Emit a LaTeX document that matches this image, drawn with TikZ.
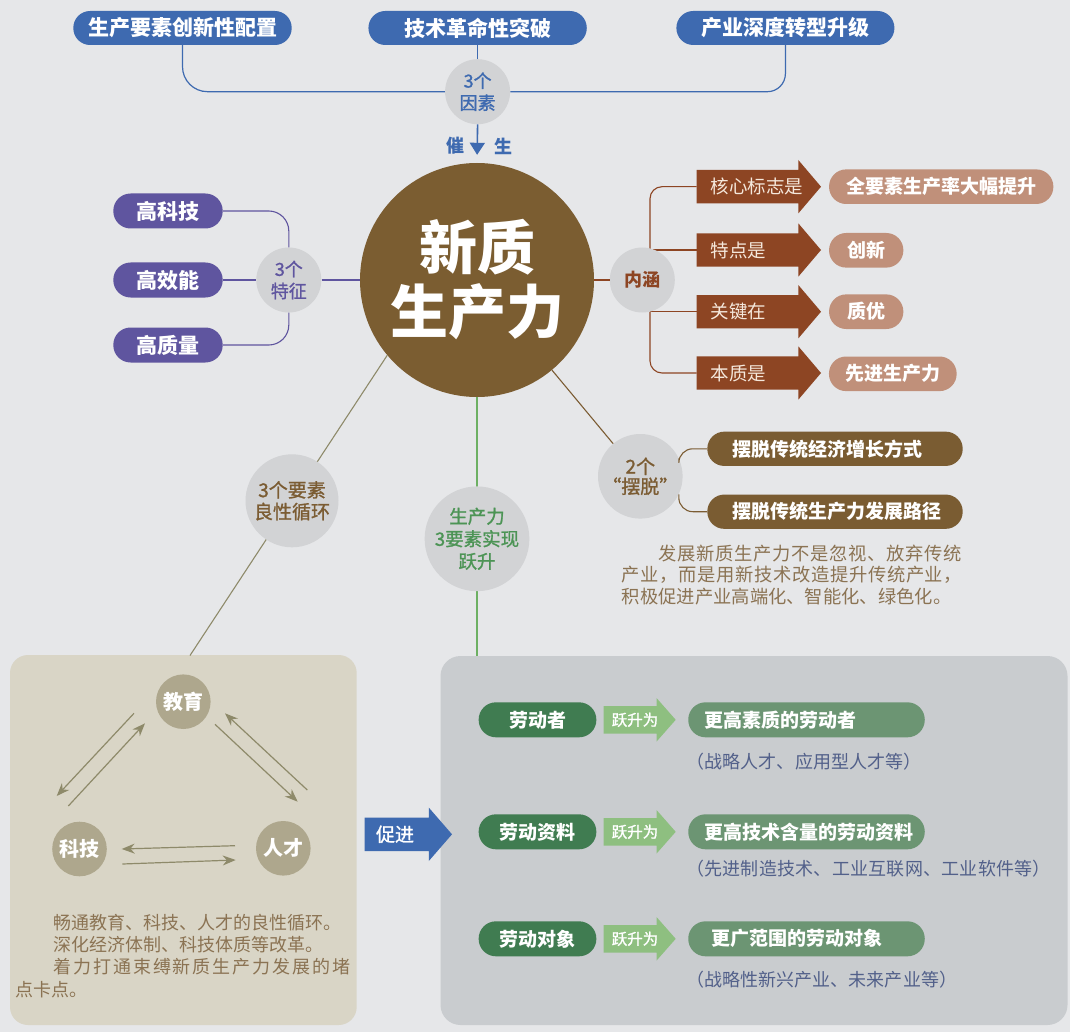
\documentclass[tikz,border=0pt]{standalone}
\usepackage{fontspec}
\setmainfont{Noto Sans CJK SC}
\newfontfamily\medf{Noto Sans CJK SC}[FakeBold=1.2]
\usetikzlibrary{arrows.meta}
\definecolor{bgc}{HTML}{E6E7E9}
\definecolor{cblue}{HTML}{3E6AB0}
\definecolor{cgray}{HTML}{D2D3D5}
\definecolor{cpurple}{HTML}{5F559F}
\definecolor{bigbrown}{HTML}{7B5D31}
\definecolor{abrown}{HTML}{8D4523}
\definecolor{salmon}{HTML}{C0907A}
\definecolor{pbrown}{HTML}{7A5C32}
\definecolor{ptext}{HTML}{8B7353}
\definecolor{beige}{HTML}{D9D5C6}
\definecolor{khaki}{HTML}{AEA78D}
\definecolor{olive}{HTML}{8E8A6A}
\definecolor{glinec}{HTML}{6DB063}
\definecolor{gtext}{HTML}{4C9455}
\definecolor{greyp}{HTML}{C9CCCF}
\definecolor{dgreen}{HTML}{407C51}
\definecolor{lgreen}{HTML}{8EBF80}
\definecolor{mgreen}{HTML}{6C9573}
\definecolor{nblue}{HTML}{52608A}
\definecolor{cream}{HTML}{F5E8DC}
\definecolor{ytext}{HTML}{7B5C33}
\newcommand\fsz[2]{\fontsize{#1pt}{#2pt}\selectfont}
\newcommand\harrow[7]{\fill[#1] (#2,#5-#6) -- (#3,#5-#6) -- (#3,#5-#7) -- (#4,#5) -- (#3,#5+#7) -- (#3,#5+#6) -- (#2,#5+#6) -- cycle;}
\newcommand\spreadline[2]{\makebox[#1][s]{\spreadA#2\relax}}
\def\spreadA#1{#1\spreadB}
\def\spreadB#1{\ifx\relax#1\else\hfil#1\expandafter\spreadB\fi}
\tikzset{
  circ/.style={circle, fill=cgray, minimum size=65pt, inner sep=0pt, align=center, font=\medf\fsz{18}{22}},
  bpill/.style={rectangle, rounded corners=16.8pt, fill=cblue, text=white, minimum height=34pt, inner sep=0pt, font=\bfseries\fsz{21}{21}},
  ppill/.style={rectangle, rounded corners=17.3pt, fill=cpurple, text=white, minimum width=109.4pt, minimum height=35pt, inner sep=0pt, font=\bfseries\fsz{21}{21}},
  spill/.style={rectangle, rounded corners=17.1pt, fill=salmon, text=white, minimum height=34.6pt, inner sep=0pt, font=\bfseries\fsz{19}{19}},
  brpill/.style={rectangle, rounded corners=17pt, fill=pbrown, text=white, minimum height=34.3pt, text width=204.6pt, align=left, inner xsep=25.4pt, inner ysep=0pt, font=\bfseries\fsz{19}{19}},
  gpill/.style={rectangle, rounded corners=17.3pt, fill=dgreen, text=white, minimum width=117.7pt, minimum height=35pt, inner sep=0pt, font=\bfseries\fsz{19}{19}},
  mpill/.style={rectangle, rounded corners=17.3pt, fill=mgreen, text=white, minimum height=35pt, text width=204.5pt, align=left, inner xsep=16pt, inner ysep=0pt, font=\bfseries\fsz{19}{19}},
  atext/.style={text=cream, inner sep=0pt, anchor=west, font=\fsz{18.5}{18.5}},
  ytextn/.style={text=white, inner sep=0pt, font=\medf\fsz{15.5}{15.5}},
  note/.style={text=nblue, inner sep=0pt, anchor=west, font=\fsz{18}{18}},
  para/.style={text=ptext, inner sep=0pt, anchor=west, font=\fsz{18.3}{18.3}},
  tri/.style={circle, fill=khaki, minimum size=54.6pt, inner sep=0pt, text=white, font=\bfseries\fsz{20}{20}},
  bl/.style={draw=cblue, line width=1.2pt},
  pl/.style={draw=cpurple, line width=1.1pt},
  brl/.style={draw=abrown, line width=1.1pt},
  yl/.style={draw=ytext, line width=1.1pt},
  ol/.style={draw=olive, line width=1.1pt},
  gl/.style={draw=glinec, line width=1.2pt},
  tarrow/.style={draw=olive, line width=1.2pt, -{Stealth[length=13pt,width=10pt]}}
}
\begin{document}
\begin{tikzpicture}[x=1pt,y=-1pt]
\fill[bgc] (0,0) rectangle (1070,1032);
\useasboundingbox (0,0) rectangle (1070,1032);

% panels
\node[fill=beige, rounded corners=18pt, minimum width=346.7pt, minimum height=370pt, inner sep=0pt] (bp) at (183.35,840) {};
\node[fill=greyp, rounded corners=20pt, minimum width=627pt, minimum height=369pt, inner sep=0pt] (gp) at (754,840.5) {};

% central circle
\node[circle, fill=bigbrown, minimum size=234pt, inner sep=0pt, text=white, align=center, font=\bfseries\fsz{58}{64}] (big) at (477,280) {新质\\生产力};

% top factors
\node[bpill, minimum width=218.4pt] (p1) at (182.5,28) {生产要素创新性配置};
\node[bpill, minimum width=218.3pt] (p2) at (477.6,28) {技术革命性突破};
\node[bpill, minimum width=218pt] (p3) at (785.4,28) {产业深度转型升级};
\node[circ, text=cblue] (yz) at (477.6,91.7) {3个\\因素};
\draw[bl, rounded corners=25pt] (p1.south) |- (yz.west);
\draw[bl, rounded corners=18pt] (p3.south) |- (yz.east);
\draw[bl] (p2.south) -- (yz.north);
\draw[draw=cblue, line width=1.6pt, -{Triangle[width=15pt,length=12pt]}, shorten >=8pt] (yz.south) -- (big.north);
\node[text=cblue, inner sep=0pt, font=\bfseries\fsz{18}{18}] (cui) at (455,146) {催};
\node[text=cblue, inner sep=0pt, font=\bfseries\fsz{18}{18}] (sheng) at (503,146) {生};

% three features
\node[ppill] (k1) at (168,211) {高科技};
\node[ppill] (k2) at (168,280) {高效能};
\node[ppill] (k3) at (168,345) {高质量};
\node[circ, text=cpurple] (tz) at (288.8,280) {3个\\特征};
\draw[pl, rounded corners=20pt] (k1.east) -| (tz.north);
\draw[pl] (k2.east) -- (tz.west);
\draw[pl, rounded corners=20pt] (k3.east) -| (tz.south);
\draw[pl] (tz.east) -- (big.west);

% connotation
\coordinate (r1) at (696.7,186.7);
\coordinate (r2) at (696.7,250);
\coordinate (r3) at (696.7,311.7);
\coordinate (r4) at (696.7,373);
\coordinate (jt) at (650,250);
\coordinate (jb) at (650,311.7);
\draw[brl, rounded corners=12pt] (jt) |- (r1);
\draw[brl] (jt) -- (r2);
\draw[brl] (jb) -- (r3);
\draw[brl, rounded corners=12pt] (jb) |- (r4);
\node[circ, text=abrown, font=\bfseries\fsz{18}{22}] (nh) at (642.3,280) {内涵};
\draw[brl] (big.east) -- (nh.west);
\harrow{abrown}{696.7}{798.3}{821}{186.7}{16.7}{26.7}
\harrow{abrown}{696.7}{798.3}{821}{250}{16.7}{26.7}
\harrow{abrown}{696.7}{798.3}{821}{311.7}{16.7}{26.7}
\harrow{abrown}{696.7}{798.3}{821}{373}{16.7}{26.7}
\node[atext] (a1) at (710.7,186.7) {核心标志是};
\node[atext] (a2) at (710.7,250) {特点是};
\node[atext] (a3) at (710.7,311.7) {关键在};
\node[atext] (a4) at (710.7,373) {本质是};
\node[spill, minimum width=224.3pt] (s1) at (941.2,186.7) {全要素生产率大幅提升};
\node[spill, minimum width=74.3pt] (s2) at (866.2,250.3) {创新};
\node[spill, minimum width=74.3pt] (s3) at (866.2,311.7) {质优};
\node[spill, minimum width=127.7pt] (s4) at (892.8,373.8) {先进生产力};

% two breakaways
\node[circ, text=ytext, font=\medf\fsz{19}{20}] (bt) at (640.3,476.3) {2个\\“摆脱”};
\draw[yl] (big) -- (bt);
\node[brpill] (b1) at (835,448.8) {摆脱传统经济增长方式};
\node[brpill] (b2) at (835,511.7) {摆脱传统生产力发展路径};
\draw[yl, rounded corners=14pt] (bt.25) |- (b1.west);
\draw[yl, rounded corners=14pt] (bt.-25) |- (b2.west);
\node[para] (q1) at (658.3,553.3) {\spreadline{303.7pt}{发展新质生产力不是忽视、放弃传统}};
\node[para] (q2) at (621.7,575) {\spreadline{340.3pt}{产业，而是用新技术改造提升传统产业，}};
\node[para] (q3) at (621.7,596.7) {积极促进产业高端化、智能化、绿色化。};

% lines down
\coordinate (ytop) at (190,655.5);
\draw[ol] (big.220) -- (ytop);
\draw[gl] (big.south) -- (big.south |- gp.north);
\node[circ, minimum size=93pt, text=ytext, font=\medf\fsz{19}{21.7}] (yx) at (292,500.8) {3个要素\\良性循环};
\node[circ, minimum size=93pt, text=gtext, font=\medf\fsz{18.5}{22.5}] (sx) at (477,538.8) {生产力\\3要素实现\\跃升};

% triangle
\node[tri] (edu) at (183.3,701.7) {教育};
\node[tri] (kj) at (79.5,849) {科技};
\node[tri] (rc) at (283.3,848.3) {人才};
\coordinate (a1s) at (134,713.3); \coordinate (a1e) at (56.7,796);
\coordinate (a2s) at (68.3,806); \coordinate (a2e) at (145,723.3);
\coordinate (a3s) at (215,724.3); \coordinate (a3e) at (297.7,801.7);
\coordinate (a4s) at (307.3,790); \coordinate (a4e) at (225,713.3);
\coordinate (a5s) at (235,845.7); \coordinate (a5e) at (121.7,849);
\coordinate (a6s) at (122.3,864); \coordinate (a6e) at (235.7,860);
\draw[tarrow] (a1s) -- (a1e);
\draw[tarrow] (a2s) -- (a2e);
\draw[tarrow] (a3s) -- (a3e);
\draw[tarrow] (a4s) -- (a4e);
\draw[tarrow] (a5s) -- (a5e);
\draw[tarrow] (a6s) -- (a6e);
\node[para, font=\fsz{18}{18}] (w1) at (53.3,922.7) {畅通教育、科技、人才的良性循环。};
\node[para, font=\fsz{18}{18}] (w2) at (53.3,945) {深化经济体制、科技体质等改革。};
\node[para, font=\fsz{18}{18}] (w3) at (53.3,967) {\spreadline{296.7pt}{着力打通束缚新质生产力发展的堵}};
\node[para, font=\fsz{18}{18}] (w4) at (15,990) {点卡点。};

% promote arrow
\harrow{cblue}{364.5}{428.8}{452}{834.3}{16.7}{26.7}
\node[text=white, inner sep=0pt, font=\medf\fsz{19}{19}] (cj) at (395,834.3) {促进};

% three elements
\node[gpill] (l1) at (537.5,719.8) {劳动者};
\node[gpill] (l2) at (537.5,831.8) {劳动资料};
\node[gpill] (l3) at (537.5,938.8) {劳动对象};
\harrow{lgreen}{603.7}{656.6}{675.7}{719.8}{13.8}{21.7}
\harrow{lgreen}{603.7}{656.6}{675.7}{831.8}{13.8}{21.7}
\harrow{lgreen}{603.7}{656.6}{675.7}{938.8}{13.8}{21.7}
\node[ytextn] (y1) at (635,719.8) {跃升为};
\node[ytextn] (y2) at (635,831.8) {跃升为};
\node[ytextn] (y3) at (635,938.8) {跃升为};
\node[mpill] (m1) at (806.5,719.8) {更高素质的劳动者};
\node[mpill] (m2) at (806.5,831.8) {更高技术含量的劳动资料};
\node[mpill] (m3) at (806.5,938.8) {\hspace{7pt}更广范围的劳动对象};
\node[note] (n1) at (686,761.7) {\spreadline{235.6pt}{（战略人才、应用型人才等）}};
\node[note] (n2) at (686,868.3) {\spreadline{364.7pt}{（先进制造技术、工业互联网、工业软件等）}};
\node[note] (n3) at (686,979.3) {\spreadline{271pt}{（战略性新兴产业、未来产业等）}};
\end{tikzpicture}
\end{document}
